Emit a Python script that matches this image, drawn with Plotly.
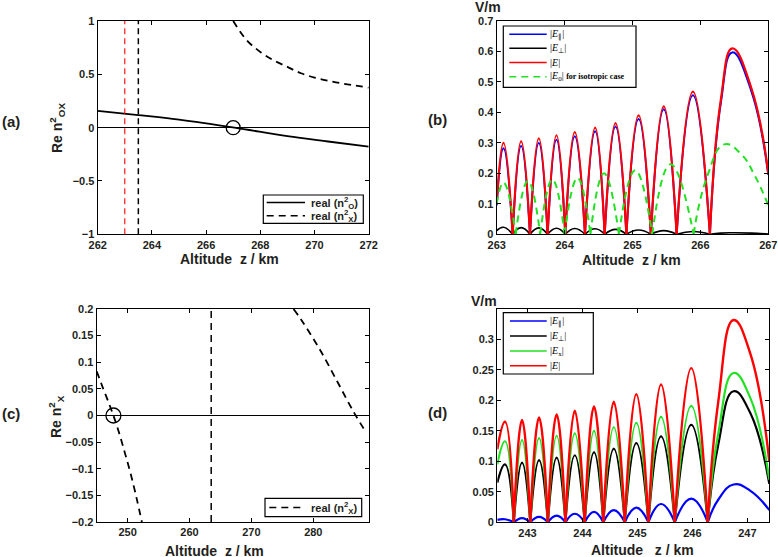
import plotly.graph_objects as go

W, H = 778, 557

# ---------------- data: panel (a) ----------------
a_O_z = [262.0, 263.5, 265.0, 267.05, 269.0, 270.5, 272.0]
a_O_v = [0.157, 0.118, 0.075, 0.0, -0.08, -0.13, -0.178]
a_X_z = [267.0, 267.5, 268.0, 268.5, 269.0, 269.5, 270.0, 270.5, 271.0, 271.5, 272.0]
a_X_v = [1.0, 0.82, 0.71, 0.63, 0.57, 0.51, 0.47, 0.44, 0.415, 0.395, 0.375]
a_vline_red = 263.0
a_vline_black = 263.5
a_circle_z, a_circle_v = [267.0], [0.0]
a_yticks = [-1, -0.5, 0, 0.5, 1]
a_yticktext = ["\u22121", "\u22120.5", "0", "0.5", "1"]
a_xticks = [262, 264, 266, 268, 270, 272]

# ---------------- data: panel (b) ----------------
b_z = [263.0, 263.10, 263.235, 263.36, 263.49, 263.62, 263.75, 263.88, 264.01, 264.15,
       264.30, 264.45, 264.59, 264.75, 264.91, 265.09, 265.27, 265.46, 265.65, 265.89,
       266.14, 266.30, 266.47, 266.75, 267.0]
b_red = [0.10, 0.30, 0, 0.305, 0, 0.315, 0, 0.325, 0, 0.335, 0, 0.35, 0, 0.365, 0, 0.39,
         0, 0.42, 0, 0.468, 0, 0.44, 0.61, 0.48, 0.20]
b_blue = [0.095, 0.282, 0, 0.29, 0, 0.30, 0, 0.31, 0, 0.322, 0, 0.338, 0, 0.354, 0, 0.378,
          0, 0.41, 0, 0.456, 0, 0.43, 0.597, 0.47, 0.195]
b_black = [0.012, 0.023, 0, 0.022, 0, 0.021, 0, 0.02, 0, 0.019, 0, 0.018, 0, 0.016, 0, 0.014,
           0, 0.012, 0, 0.009, 0, 0.004, 0.005, 0.004, 0.001]
b_green_z = [263.0, 263.1, 263.28, 263.46, 263.64, 263.82, 264.0, 264.19, 264.38, 264.58,
             264.8, 265.04, 265.29, 265.56, 265.9, 266.1, 266.35, 266.6, 266.8, 267.0]
b_green = [0.10, 0.17, 0, 0.175, 0, 0.18, 0, 0.185, 0, 0.20, 0, 0.21, 0, 0.23, 0, 0.19,
           0.295, 0.263, 0.193, 0.095]
b_yticks = [0, 0.1, 0.2, 0.3, 0.4, 0.5, 0.6, 0.7]
b_xticks = [263, 264, 265, 266, 267]

# ---------------- data: panel (c) ----------------
c_X1_z = [245.0, 246.0, 247.0, 247.7, 248.5, 249.5, 250.5, 251.5, 252.3]
c_X1_v = [0.083, 0.052, 0.022, 0.0, -0.028, -0.068, -0.11, -0.158, -0.2]
c_X2_z = [276.8, 278.1, 281.1, 284.0, 286.5, 288.6]
c_X2_v = [0.2, 0.179, 0.123, 0.061, 0.007, -0.033]
c_vline = 263.5
c_circle_z, c_circle_v = [247.7], [0.0]
c_yticks = [-0.2, -0.15, -0.1, -0.05, 0, 0.05, 0.1, 0.15, 0.2]
c_yticktext = ["\u22120.2", "\u22120.15", "\u22120.1", "\u22120.05", "0", "0.05", "0.1", "0.15", "0.2"]
c_xticks = [250, 260, 270, 280]

# ---------------- data: panel (d) ----------------
d_z = [242.45, 242.59, 242.75, 242.9, 243.05, 243.21, 243.37, 243.53, 243.69, 243.86,
       244.04, 244.21, 244.38, 244.57, 244.77, 244.98, 245.2, 245.43, 245.68, 245.98,
       246.28, 246.47, 246.75, 247.05, 247.4]
d_red = [0.12, 0.165, 0, 0.168, 0, 0.172, 0, 0.177, 0, 0.183, 0, 0.19, 0, 0.198, 0, 0.21,
         0, 0.226, 0, 0.253, 0, 0.197, 0.332, 0.278, 0.10]
d_green = [0.095, 0.133, 0, 0.135, 0, 0.138, 0, 0.142, 0, 0.146, 0, 0.15, 0, 0.156, 0, 0.163,
           0, 0.173, 0, 0.191, 0, 0.145, 0.245, 0.205, 0.07]
d_black = [0.065, 0.095, 0, 0.098, 0, 0.102, 0, 0.106, 0, 0.11, 0, 0.115, 0, 0.121, 0, 0.13,
           0, 0.141, 0, 0.16, 0, 0.127, 0.215, 0.18, 0.063]
d_blue = [0.004, 0.005, 0, 0.007, 0, 0.009, 0, 0.011, 0, 0.014, 0, 0.017, 0, 0.02, 0, 0.024,
          0, 0.03, 0, 0.039, 0, 0.037, 0.062, 0.052, 0.02]
d_yticks = [0, 0.05, 0.1, 0.15, 0.2, 0.25, 0.3]
d_yticktext = ["0", "0.05", "0.1", "0.15", "0.2", "0.25", "0.3"]
d_xticks = [243, 244, 245, 246, 247]

# legend labels
lab_a = ["real (n<sup>2</sup><sub>O</sub>)", "real (n<sup>2</sup><sub>X</sub>)"]
lab_b = ["|<i>E</i><sub>\u2225</sub>|", "|<i>E</i><sub>\u22a5</sub>|", "|<i>E</i>|",
         "|<i>E</i><sub>0</sub>| <b><span style=\"font-size:8px\">for isotropic case</span></b>"]
lab_c = ["real (n<sup>2</sup><sub>X</sub>)"]
lab_d = ["|<i>E</i><sub>\u2225</sub>|", "|<i>E</i><sub>\u22a5</sub>|", "|<i>E</i><sub>x</sub>|", "|<i>E</i>|"]


def split_cusps(xs, ys):
    """Break the line at interior zero points so each arch is smoothed on its own."""
    X, Y = [], []
    n = len(xs)
    for i, (x, y) in enumerate(zip(xs, ys)):
        X.append(x)
        Y.append(y)
        if y == 0 and 0 < i < n - 1:
            X += [None, x]
            Y += [None, y]
    return X, Y


SANS = "Liberation Sans, Arial, sans-serif"
SERIF = "Liberation Serif, Times New Roman, serif"
TXT = "#231f20"
GREEN = "#22e022"
BLUE = "#0000ff"
RED = "#ff0000"
DASH = "7px,5px"

fig = go.Figure()

# panel (a)
fig.add_trace(go.Scatter(x=a_O_z, y=a_O_v, mode="lines", line=dict(color="black", width=1.8),
                         line_shape="spline", xaxis="x", yaxis="y"))
fig.add_trace(go.Scatter(x=a_X_z, y=a_X_v, mode="lines", line=dict(color="black", width=1.8, dash=DASH),
                         line_shape="spline", xaxis="x", yaxis="y"))
fig.add_trace(go.Scatter(x=a_circle_z, y=a_circle_v, mode="markers",
                         marker=dict(symbol="circle-open", size=14, color="black", line=dict(width=1.3)),
                         xaxis="x", yaxis="y"))


def spl(xs, ys, color, width, xa, ya, dash=None):
    X, Y = split_cusps(xs, ys)
    ln = dict(color=color, width=width, shape="spline", smoothing=1.3)
    if dash:
        ln["dash"] = dash
    return go.Scatter(x=X, y=Y, mode="lines", line=ln, connectgaps=False, xaxis=xa, yaxis=ya)


# panel (b)
fig.add_trace(spl(b_z, b_blue, BLUE, 2.0, "x2", "y2"))
fig.add_trace(spl(b_z, b_black, "black", 1.6, "x2", "y2"))
fig.add_trace(spl(b_z, b_red, RED, 2.2, "x2", "y2"))
fig.add_trace(spl(b_green_z, b_green, GREEN, 2.0, "x2", "y2", dash=DASH))

# panel (c)
fig.add_trace(go.Scatter(x=c_X1_z, y=c_X1_v, mode="lines", line=dict(color="black", width=1.8, dash=DASH),
                         line_shape="spline", xaxis="x3", yaxis="y3"))
fig.add_trace(go.Scatter(x=c_X2_z, y=c_X2_v, mode="lines", line=dict(color="black", width=1.8, dash=DASH),
                         line_shape="spline", xaxis="x3", yaxis="y3"))
fig.add_trace(go.Scatter(x=c_circle_z, y=c_circle_v, mode="markers",
                         marker=dict(symbol="circle-open", size=15, color="black", line=dict(width=1.3)),
                         xaxis="x3", yaxis="y3"))

# panel (d)
fig.add_trace(spl(d_z, d_blue, BLUE, 2.2, "x4", "y4"))
fig.add_trace(spl(d_z, d_black, "black", 2.2, "x4", "y4"))
fig.add_trace(spl(d_z, d_green, GREEN, 2.2, "x4", "y4"))
fig.add_trace(spl(d_z, d_red, RED, 2.4, "x4", "y4"))


def px2x(p):
    return p / W


def py2y(p):
    return 1 - p / H


# vertical dashed lines
shapes = [
    dict(type="line", xref="x", yref="y domain", x0=a_vline_red, x1=a_vline_red, y0=0, y1=1,
         line=dict(color=RED, width=1.1, dash="6px,4px")),
    dict(type="line", xref="x", yref="y domain", x0=a_vline_black, x1=a_vline_black, y0=0, y1=1,
         line=dict(color="black", width=1.5, dash="6px,4px")),
    dict(type="line", xref="x3", yref="y3 domain", x0=c_vline, x1=c_vline, y0=0, y1=1,
         line=dict(color="black", width=1.5, dash=DASH)),
]

annotations = []


def ann(text, px, py, angle=0, size=14, family=SANS, bold=True, xanchor="center", color=TXT):
    f = dict(family=family, size=size, color=color)
    if bold:
        f["weight"] = "bold"
    return dict(text=text, x=px2x(px), y=py2y(py), xref="paper", yref="paper", showarrow=False,
                xanchor=xanchor, yanchor="middle", textangle=angle, font=f)


def legend_block(box, items, line_x, text_x, font_family, size, bold):
    x0, y0, x1, y1 = box
    shapes.append(dict(type="rect", xref="paper", yref="paper", x0=px2x(x0), x1=px2x(x1),
                       y0=py2y(y1), y1=py2y(y0), fillcolor="white",
                       line=dict(color="black", width=1.2), layer="above"))
    for (yy, color, width, dash, text) in items:
        ln = dict(color=color, width=width)
        if dash:
            ln["dash"] = dash
        shapes.append(dict(type="line", xref="paper", yref="paper", x0=px2x(line_x[0]), x1=px2x(line_x[1]),
                           y0=py2y(yy), y1=py2y(yy), line=ln, layer="above"))
        annotations.append(ann(text, text_x, yy, size=size, family=font_family, bold=bold,
                               xanchor="left", color="black" if not bold else TXT))


legend_block((263.3, 195, 363.3, 223.3),
             [(202.5, "black", 1.6, None, lab_a[0]), (215.8, "black", 1.6, DASH, lab_a[1])],
             (266.7, 305), 309, SANS, 11, True)
legend_block((503.3, 26, 636, 87.3),
             [(34.3, BLUE, 1.6, None, lab_b[0]), (48.2, "black", 1.6, None, lab_b[1]),
              (62.5, RED, 1.6, None, lab_b[2]), (76.7, GREEN, 1.6, DASH, lab_b[3])],
             (509.3, 546.7), 548, SERIF, 10, False)
legend_block((265, 498.3, 361.7, 516.7),
             [(507.5, "black", 1.6, DASH, lab_c[0])],
             (269.3, 305), 309, SANS, 11, True)
legend_block((503.3, 312.7, 593.3, 374),
             [(321, BLUE, 1.6, None, lab_d[0]), (336, "black", 1.6, None, lab_d[1]),
              (351, GREEN, 1.6, None, lab_d[2]), (365.7, RED, 1.6, None, lab_d[3])],
             (510, 546.7), 548, SERIF, 10, False)

annotations += [
    ann("(a)", 11, 121, size=15), ann("(b)", 437, 119, size=15),
    ann("(c)", 11, 413, size=15), ann("(d)", 437, 412, size=15),
    ann("Re n<sup>2</sup><sub>OX</sub>", 57, 128, angle=-90),
    ann("Re n<sup>2</sup><sub>X</sub>", 56, 417, angle=-90),
    ann("V/m", 488, 7), ann("V/m", 484, 301),
    ann("Altitude\u00a0\u00a0z / km", 229, 259), ann("Altitude\u00a0\u00a0z / km", 631, 260),
    ann("Altitude\u00a0\u00a0z / km", 214, 551), ann("Altitude\u00a0\u00a0\u00a0z / km", 642, 550),
]

tickfont = dict(family=SANS, size=11, color=TXT, weight="bold")


def xax(dom, rng, ticks, anchor):
    return dict(domain=[px2x(dom[0]), px2x(dom[1])], range=rng, tickvals=ticks, ticks="inside",
                ticklen=4, tickwidth=1, tickcolor="black", showline=True, linecolor="black",
                linewidth=1.3, mirror="ticks", showgrid=False, zeroline=False, tickfont=tickfont,
                anchor=anchor, fixedrange=True, automargin=False)


def yax(dom, rng, ticks, anchor, text=None, zl=False):
    d = dict(domain=[py2y(dom[1]), py2y(dom[0])], range=rng, tickvals=ticks, ticks="inside",
             ticklen=4, tickwidth=1, tickcolor="black", showline=True, linecolor="black",
             linewidth=1.3, mirror="ticks", showgrid=False, zeroline=zl, zerolinecolor="black",
             zerolinewidth=1, tickfont=tickfont, anchor=anchor, fixedrange=True, automargin=False)
    if text:
        d["ticktext"] = text
    return d


fig.update_layout(
    template="none",
    width=W, height=H, margin=dict(l=0, r=0, t=0, b=0, pad=0, autoexpand=False),
    paper_bgcolor="white", plot_bgcolor="white",
    showlegend=False,
    xaxis=xax((97.7, 368.7), [262, 272], a_xticks, "y"),
    yaxis=yax((21, 234.3), [-1, 1], a_yticks, "x", a_yticktext, zl=True),
    xaxis2=xax((496.7, 768.3), [263, 267], b_xticks, "y2"),
    yaxis2=yax((21, 234.3), [0, 0.7], b_yticks, "x2"),
    xaxis3=xax((96.7, 369), [245, 289], c_xticks, "y3"),
    yaxis3=yax((309, 522), [-0.2, 0.2], c_yticks, "x3", c_yticktext, zl=True),
    xaxis4=xax((497.3, 769.3), [242.45, 247.4], d_xticks, "y4"),
    yaxis4=yax((309, 522.3), [0, 0.35], d_yticks, "x4", d_yticktext),
    shapes=shapes,
    annotations=annotations,
)

fig.write_html("out.html", config={"displayModeBar": False},
               post_script="document.body.style.margin='0px';document.body.style.overflow='hidden';")
